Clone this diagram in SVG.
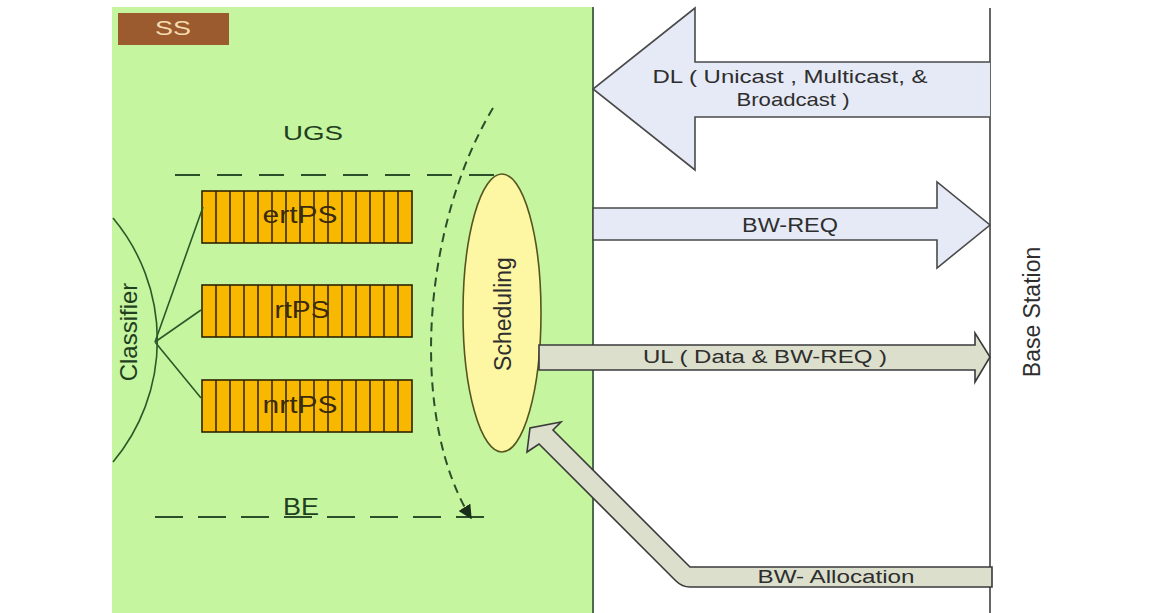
<svg xmlns="http://www.w3.org/2000/svg" xmlns:xlink="http://www.w3.org/1999/xlink" width="1150" height="613" viewBox="0 0 1150 613">
<style>
text{font-family:"Liberation Sans",Arial,sans-serif}
.g{fill:#1f3f1f}
.d{fill:#2e2e2e}
.q{fill:#f8b800;stroke:#2e2200;stroke-width:1.6}
.qs{stroke:#2e2200;stroke-width:1.5;fill:none}
.blue{fill:#e6eaf6;stroke:#4a4a4a;stroke-width:1.6}
.grey{fill:#dcdfcc;stroke:#3a3a3a;stroke-width:1.6}
.dash{fill:none;stroke:#2a4f2a;stroke-width:2}
.ln{fill:none;stroke:#2a5a2a;stroke-width:1.6}
</style>
<defs>
<g id="queue">
<rect class="q" x="202" y="0" width="210" height="52"/>
<path class="qs" d="M216,0V52M230,0V52M244,0V52M258,0V52M272,0V52M286,0V52M300,0V52M314,0V52M328,0V52M342,0V52M356,0V52M370,0V52M384,0V52M398,0V52"/>
</g>
<marker id="ah" viewBox="0 0 10 10" refX="9" refY="5" markerWidth="7" markerHeight="7" orient="auto" markerUnits="strokeWidth">
<path d="M0,0L10,5L0,10z" fill="#1a2f1a"/>
</marker>
</defs>
<rect x="0" y="0" width="1150" height="613" fill="#ffffff"/>
<g id="ss-panel">
<rect x="112" y="7" width="481" height="606" fill="#c6f5a0"/>
<line x1="593" y1="7" x2="593" y2="613" stroke="#4d6b4d" stroke-width="2"/>
</g>
<g id="ss-label">
<rect x="118" y="13" width="111" height="32" fill="#9b5b2f"/>
<text x="173" y="35" font-size="20" text-anchor="middle" fill="#f5dcb0" textLength="36" lengthAdjust="spacingAndGlyphs">SS</text>
</g>
<g id="base-station">
<line x1="990" y1="8" x2="990" y2="613" stroke="#666666" stroke-width="2"/>
<text transform="translate(1040,312) rotate(-90)" font-size="23" text-anchor="middle" class="d">Base Station</text>
</g>
<g id="ugs"><text x="313" y="140" font-size="21" text-anchor="middle" class="g" textLength="60" lengthAdjust="spacingAndGlyphs">UGS</text></g>
<g id="be"><text x="301" y="515" font-size="23" text-anchor="middle" class="g" textLength="36" lengthAdjust="spacingAndGlyphs">BE</text></g>
<g id="classifier">
<path class="ln" d="M113,218A190,190 0 0 1 113,462"/>
<text transform="translate(137,332) rotate(-90)" font-size="24" text-anchor="middle" class="g">Classifier</text>
</g>
<g id="queue-ertps">
<use xlink:href="#queue" href="#queue" y="191"/>
<text x="300" y="223" font-size="23" text-anchor="middle" fill="#3a2a10" textLength="75" lengthAdjust="spacingAndGlyphs">ertPS</text>
</g>
<g id="queue-rtps">
<use xlink:href="#queue" href="#queue" y="285"/>
<text x="302" y="318" font-size="23" text-anchor="middle" fill="#3a2a10" textLength="55" lengthAdjust="spacingAndGlyphs">rtPS</text>
</g>
<g id="queue-nrtps">
<use xlink:href="#queue" href="#queue" y="380"/>
<text x="300" y="413" font-size="23" text-anchor="middle" fill="#3a2a10" textLength="75" lengthAdjust="spacingAndGlyphs">nrtPS</text>
</g>
<g id="scheduling">
<ellipse cx="502" cy="313" rx="39" ry="139" fill="#fdf6a2" stroke="#55551f" stroke-width="1.6"/>
<text transform="translate(511,314) rotate(-90)" font-size="23" text-anchor="middle" class="d">Scheduling</text>
</g>
<g id="connectors">
<path class="dash" d="M175,175H498" stroke-dasharray="25,17"/>
<path class="dash" d="M155,517H485" stroke-dasharray="28,15"/>
<path class="dash" d="M493,108C420,230 410,420 471,518" stroke-dasharray="9,6" marker-end="url(#ah)"/>
<path class="ln" d="M155,342L203,207M155,342L201,310M155,342L201,398"/>
<path class="blue" d="M990,62H695V8L593,89L695,170V117H990"/>
<path class="blue" d="M593,208H937V182L990,225L937,268V240H593z"/>
<path class="grey" d="M539,345H975V333L990,357L975,382V370H539z"/>
<path class="grey" d="M992,567H690L553,430L561,422L530,428L527,452L539,444L676,581Q682,587 690,587H992z"/>
</g>
<g id="labels">
<text x="790" y="83" font-size="19" text-anchor="middle" class="d" textLength="275" lengthAdjust="spacingAndGlyphs">DL ( Unicast , Multicast, &amp;</text>
<text x="793" y="106" font-size="19" text-anchor="middle" class="d" textLength="113" lengthAdjust="spacingAndGlyphs">Broadcast )</text>
<text x="790" y="232" font-size="20" text-anchor="middle" class="d" textLength="96" lengthAdjust="spacingAndGlyphs">BW-REQ</text>
<text x="765" y="363" font-size="18" text-anchor="middle" class="d" textLength="244" lengthAdjust="spacingAndGlyphs">UL ( Data &amp; BW-REQ )</text>
<text x="836" y="583" font-size="18" text-anchor="middle" class="d" textLength="157" lengthAdjust="spacingAndGlyphs">BW- Allocation</text>
</g>
</svg>
